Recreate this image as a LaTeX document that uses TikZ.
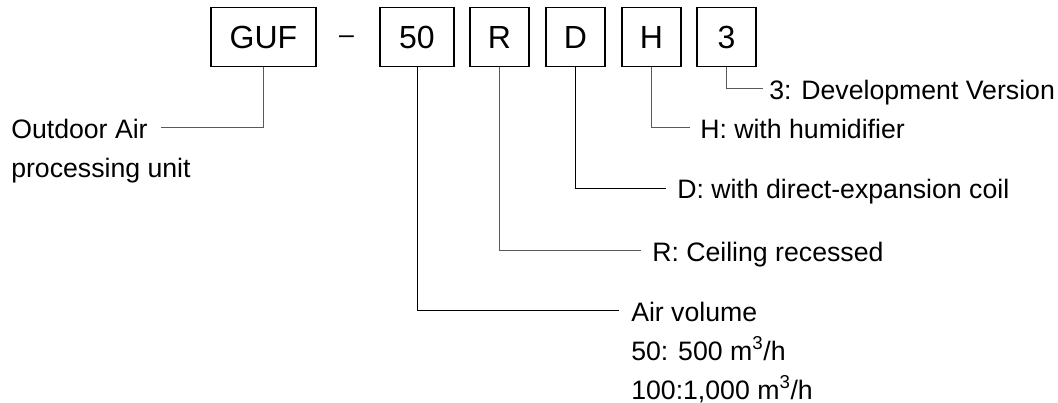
\documentclass[tikz,border=0pt]{standalone}
\usepackage{fontspec}
\setmainfont{Liberation Sans}
\usetikzlibrary{positioning}
\tikzset{
  codebox/.style={rectangle, draw=black, line width=1.1pt, minimum width=44.25pt, minimum height=44.25pt, inner sep=0pt, font=\fontsize{24}{28}\selectfont},
  codelabel/.style={anchor=base west, align=left, inner sep=0pt, font=\fontsize{20}{29.25}\selectfont},
  leader/.style={draw=black!65, line width=0.75pt},
  darkleader/.style={draw=black, line width=0.75pt}
}
\begin{document}
\begin{tikzpicture}[x=0.75pt, y=-0.75pt]
    \useasboundingbox (0,0) rectangle (1058,403);
    % Model code boxes
    \node[codebox, minimum width=78.75pt] (guf) at (263.5,37) {GUF};
    \node[codelabel, anchor=base] (dash) at (346.5,44) {–};
    \node[codebox, minimum width=55.5pt] (vol) at (417,37) {50};
    \node[codebox] (ceil) at (499.5,37) {R};
    \node[codebox] (coil) at (575.5,37) {D};
    \node[codebox] (humid) at (651.5,37) {H};
    \node[codebox] (ver) at (726.5,37) {3};

    % Leader corners
    \coordinate (gufend) at (161,128);
    \coordinate (volend) at (619,310);
    \coordinate (ceilend) at (641,250);
    \coordinate (coilend) at (666,188);
    \coordinate (humidend) at (690,128);
    \coordinate (verend) at (763,89);

    % Meaning of each part (base = last line)
    \node[codelabel] (gufl) at (11,178) {Outdoor Air\\processing unit};
    \node[codelabel] (voll) at (631,399) {Air volume\\50: 500 m\textsuperscript{3}/h\\100:1,000 m\textsuperscript{3}/h};
    \node[codelabel] (ceill) at (652,261) {R: Ceiling recessed};
    \node[codelabel] (coill) at (677,199) {D: with direct-expansion coil};
    \node[codelabel] (humidl) at (700,139) {H: with humidifier};
    \node[codelabel] (verl) at (769,100) {3: Development Version};

    \draw[leader] (guf.south) |- (gufend);
    \draw[darkleader] (vol.south) |- (volend);
    \draw[leader] (ceil.south) |- (ceilend);
    \draw[darkleader] (coil.south) |- (coilend);
    \draw[leader] (humid.south) |- (humidend);
    \draw[leader] (ver.south) |- (verend);
\end{tikzpicture}
\end{document}
